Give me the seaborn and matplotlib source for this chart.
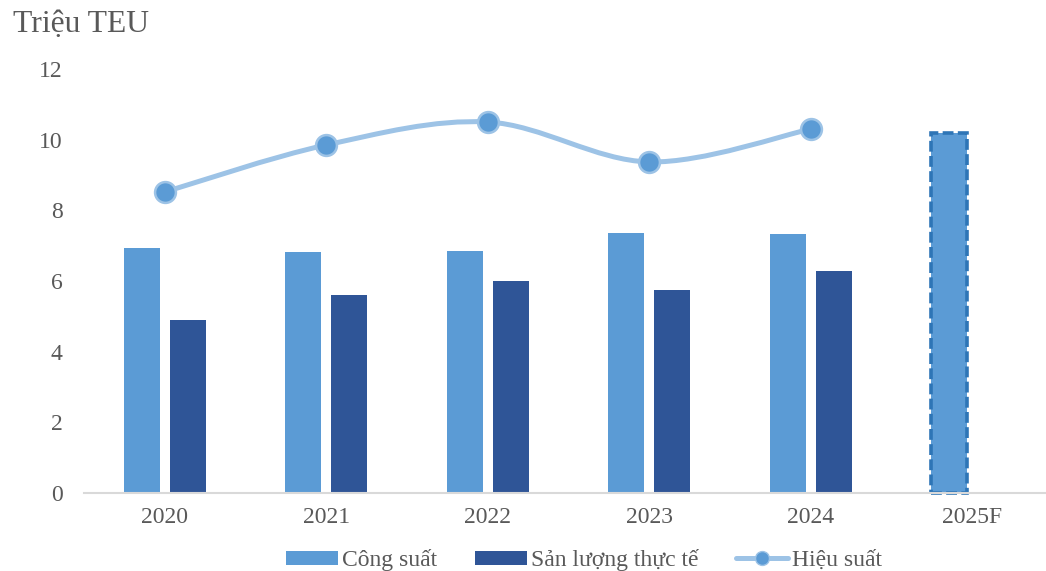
import numpy as np
import pandas as pd
import matplotlib
matplotlib.use("Agg")
import matplotlib.pyplot as plt
import seaborn as sns
from matplotlib.path import Path
from matplotlib.patches import PathPatch, Patch
from matplotlib.lines import Line2D

# Data (million TEU)
years = ["2020", "2021", "2022", "2023", "2024", "2025F"]
capacity = [6.93, 6.82, 6.85, 7.36, 7.33, 10.19]
throughput = [4.90, 5.60, 6.00, 5.75, 6.28, np.nan]
efficiency = [8.52, 9.85, 10.50, 9.37, 10.30]

series_names = ["Công suất", "Sản lượng thực tế", "Hiệu suất"]
c_cap = "#5B9BD5"
c_out = "#2F5597"
c_line = "#9DC3E6"
c_dash = "#2E75B6"
text_col = "#595959"

sns.set_theme(style="white")
plt.rcParams["font.family"] = ["Liberation Serif", "DejaVu Serif"]

df = pd.DataFrame({
    "year": years * 2,
    "series": [series_names[0]] * len(years) + [series_names[1]] * len(years),
    "value": capacity + throughput,
})

fig = plt.figure(figsize=(10.46, 5.71), dpi=100)
ax = fig.add_axes([84 / 1046, 1 - 493 / 571, 1 - 84 / 1046, (493 - 69) / 571])

sns.barplot(data=df, x="year", y="value", hue="series", order=years,
            hue_order=series_names[:2], palette=[c_cap, c_out],
            width=0.57, gap=0.217, saturation=1, linewidth=0, ax=ax,
            legend=False)

# Forecast bar: dashed outline
fc = ax.containers[0].patches[len(years) - 1]
fc.set_edgecolor(c_dash)
fc.set_linewidth(2.6)
fc.set_linestyle((0, (3, 1.2)))
fc.set_clip_on(False)

# Smoothed efficiency curve (Catmull-Rom segments as cubic Bezier)
xs = np.arange(len(efficiency), dtype=float)
ys = np.array(efficiency, dtype=float)
pts = np.column_stack([xs, ys])
verts = [pts[0]]
codes = [Path.MOVETO]
n = len(pts)
for i in range(n - 1):
    p0 = pts[i - 1] if i > 0 else pts[i]
    p1 = pts[i]
    p2 = pts[i + 1]
    p3 = pts[i + 2] if i + 2 < n else pts[i + 1]
    verts += [p1 + (p2 - p0) / 6, p2 - (p3 - p1) / 6, p2]
    codes += [Path.CURVE4] * 3
ax.add_patch(PathPatch(Path(verts, codes), facecolor="none",
                       edgecolor=c_line, linewidth=3.6, capstyle="round",
                       zorder=3))
ax.plot(xs, ys, linestyle="none", marker="o", markersize=15,
        markerfacecolor=c_cap, markeredgecolor=c_line, markeredgewidth=1.8,
        zorder=4)

ax.set_ylim(0, 12)
ax.set_xlim(-0.5, (1046 - 84) / 161.5 - 0.5)
ax.set_yticks(range(0, 13, 2))
ax.set_xlabel("")
ax.set_ylabel("")
ax.tick_params(axis="both", length=0, labelsize=17, colors=text_col)
ax.tick_params(axis="y", pad=15.5)
ax.tick_params(axis="x", pad=10)
for side in ["top", "right", "left"]:
    ax.spines[side].set_visible(False)
ax.spines["bottom"].set_color("#D9D9D9")
ax.spines["bottom"].set_linewidth(1.5)
ax.grid(False)

fig.text(13 / 1046, 1 - 10 / 571, "Triệu TEU", fontsize=22.8, color=text_col,
         ha="left", va="top")

handles = [
    Patch(facecolor=c_cap, edgecolor="none"),
    Patch(facecolor=c_out, edgecolor="none"),
    Line2D([0], [0], color=c_line, linewidth=3.6, marker="o", markersize=10,
           markerfacecolor=c_cap, markeredgecolor=c_line),
]
fig.legend(handles, series_names, loc="upper center",
           bbox_to_anchor=(584 / 1046, 1 - 549 / 571), ncol=3, frameon=False,
           fontsize=17, labelcolor=text_col, handlelength=2.2,
           handleheight=0.55, handletextpad=0.17, columnspacing=1.6,
           borderaxespad=0, borderpad=0)

fig.savefig("out.png", dpi=100)
